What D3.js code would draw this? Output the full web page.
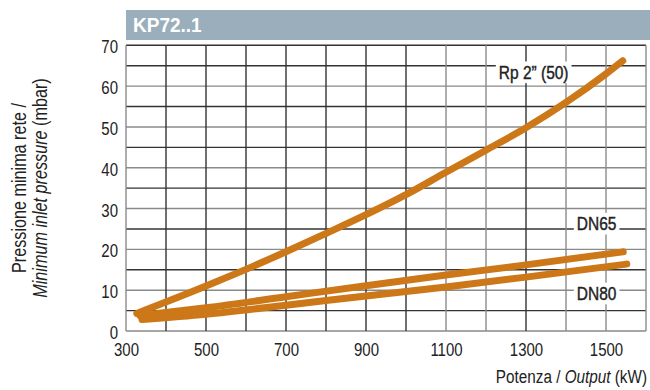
<!DOCTYPE html>
<html>
<head>
<meta charset="utf-8">
<script src="https://cdn.jsdelivr.net/npm/d3@7"></script>
<style>
  html, body { margin: 0; padding: 0; background: #fff; }
  svg { display: block; }
  text { font-family: "Liberation Sans", Arial, sans-serif; }
</style>
</head>
<body>
<svg id="chart" width="650" height="390"></svg>
<script>
// ---- data ----
const title = "KP72..1";
const xTicks = [300, 500, 700, 900, 1100, 1300, 1500];
const yTicks = [0, 10, 20, 30, 40, 50, 60, 70];
const seriesNames = ["Rp 2\u201D (50)", "DN65", "DN80"];
const rpPower = [327, 500, 600, 700, 800, 900, 1000, 1100, 1200, 1300, 1400, 1500, 1542];
const rpPressure = [4.3, 11.0, 15.1, 19.4, 23.9, 28.5, 33.4, 38.9, 44.3, 49.8, 56.0, 63.0, 66.2];
const dn65Power = [335, 500, 700, 900, 1100, 1300, 1543];
const dn65Pressure = [3.8, 5.7, 8.4, 11.1, 13.7, 16.2, 19.4];
const dn80Power = [340, 500, 700, 900, 1100, 1300, 1552];
const dn80Pressure = [2.8, 4.1, 6.3, 8.6, 10.8, 13.2, 16.4];
const yTitle1 = "Pressione minima rete /";
const yTitle2 = "Minimum inlet pressure";
const yTitle2b = " (mbar)";
const xTitle1 = "Potenza / ";
const xTitle2 = "Output";
const xTitle3 = " (kW)";

// ---- layout ----
const svg = d3.select("#chart");
const x = d3.scaleLinear().domain([300, 1600]).range([126, 646]);
const y = d3.scaleLinear().domain([0, 70]).range([331, 45.3]);
const orange = "#cd7818";
const ink = "#222";
const K = 1.2; // vertical stretch to mimic condensed type

// title bar
svg.append("rect").attr("x", 126).attr("y", 10).attr("width", 524).attr("height", 30).attr("fill", "#9aafbb");
svg.append("text").attr("transform", `translate(133,32.3) scale(1,1.05)`)
  .attr("font-weight", "bold").attr("font-size", 19).attr("fill", "#fff").text(title);

// gridlines
const g = svg.append("g");
const yGrid = d3.range(0, 70.01, 5);
g.selectAll("line.h").data(yGrid).join("line")
  .attr("x1", x(300)).attr("x2", x(1600))
  .attr("y1", d => y(d)).attr("y2", d => y(d))
  .attr("stroke", d => (d % 10 === 0 && d !== 70) ? "#8a8a8a" : "#333")
  .attr("stroke-width", 1.4);
const xGrid = d3.range(300, 1600.1, 100);
const lightX = new Set([300, 1100, 1200, 1400, 1500, 1600]);
g.selectAll("line.v").data(xGrid).join("line")
  .attr("y1", y(0)).attr("y2", y(70))
  .attr("x1", d => x(d)).attr("x2", d => x(d))
  .attr("stroke", d => lightX.has(d) ? "#8a8a8a" : "#333")
  .attr("stroke-width", 1.4);

// axes
const xAxis = svg.append("g").attr("transform", `translate(0,${y(0)})`)
  .call(d3.axisBottom(x).tickValues(xTicks).tickSize(0).tickFormat(d3.format("d")));
xAxis.select(".domain").remove();
xAxis.selectAll("text")
  .attr("y", null).attr("dy", null)
  .attr("transform", `translate(0,25) scale(1,${K})`)
  .attr("font-size", 15).attr("fill", ink);

const yAxis = svg.append("g").attr("transform", `translate(${x(300)},0)`)
  .call(d3.axisLeft(y).tickValues(yTicks).tickSize(0));
yAxis.select(".domain").remove();
yAxis.selectAll("text")
  .attr("x", null).attr("dy", null)
  .attr("transform", `translate(-8,7.5) scale(1,${K})`)
  .attr("font-size", 15).attr("fill", ink);
svg.selectAll("g[font-family]").attr("font-family", null).attr("font-size", null);

// curves
const line = d3.line().x(d => x(d[0])).y(d => y(d[1])).curve(d3.curveMonotoneX);
const series = [
  d3.zip(rpPower, rpPressure),
  d3.zip(dn65Power, dn65Pressure),
  d3.zip(dn80Power, dn80Pressure)
];
svg.append("g").selectAll("path").data(series).join("path")
  .attr("d", line).attr("fill", "none").attr("stroke", orange)
  .attr("stroke-width", 7).attr("stroke-linecap", "round").attr("stroke-linejoin", "round");

// series labels with white boxes
const labels = [
  { name: seriesNames[0], px: 1232, py: 61.8 },
  { name: seriesNames[1], px: 1427, py: 24.7 },
  { name: seriesNames[2], px: 1427, py: 7.6 }
];
labels.forEach(l => {
  const lg = svg.append("g").attr("transform", `translate(${x(l.px)},${y(l.py)})`);
  const bg = lg.append("rect").attr("fill", "#fff");
  const t = lg.append("text").attr("transform", `scale(1,${K})`)
    .attr("font-size", 15.5).attr("fill", ink)
    .attr("stroke", ink).attr("stroke-width", 0.35).text(l.name);
  const bb = t.node().getBBox();
  bg.attr("x", bb.x - 3).attr("y", bb.y * K - 1)
    .attr("width", bb.width + 6).attr("height", bb.height * K + 1);
});

// axis titles
svg.append("text").attr("transform", `translate(25.5,188) rotate(-90) scale(1,${K})`)
  .attr("text-anchor", "middle").attr("font-size", 16.2).attr("fill", ink).text(yTitle1);
const yt2 = svg.append("text").attr("transform", `translate(47,188) rotate(-90) scale(1,${K})`)
  .attr("text-anchor", "middle").attr("font-size", 16.2).attr("fill", ink);
yt2.append("tspan").attr("font-style", "italic").text(yTitle2);
yt2.append("tspan").text(yTitle2b);

const xt = svg.append("text").attr("transform", `translate(647,383) scale(1,${K})`)
  .attr("text-anchor", "end").attr("font-size", 15.3).attr("fill", ink);
xt.append("tspan").text(xTitle1);
xt.append("tspan").attr("font-style", "italic").text(xTitle2);
xt.append("tspan").text(xTitle3);
</script>
</body>
</html>
